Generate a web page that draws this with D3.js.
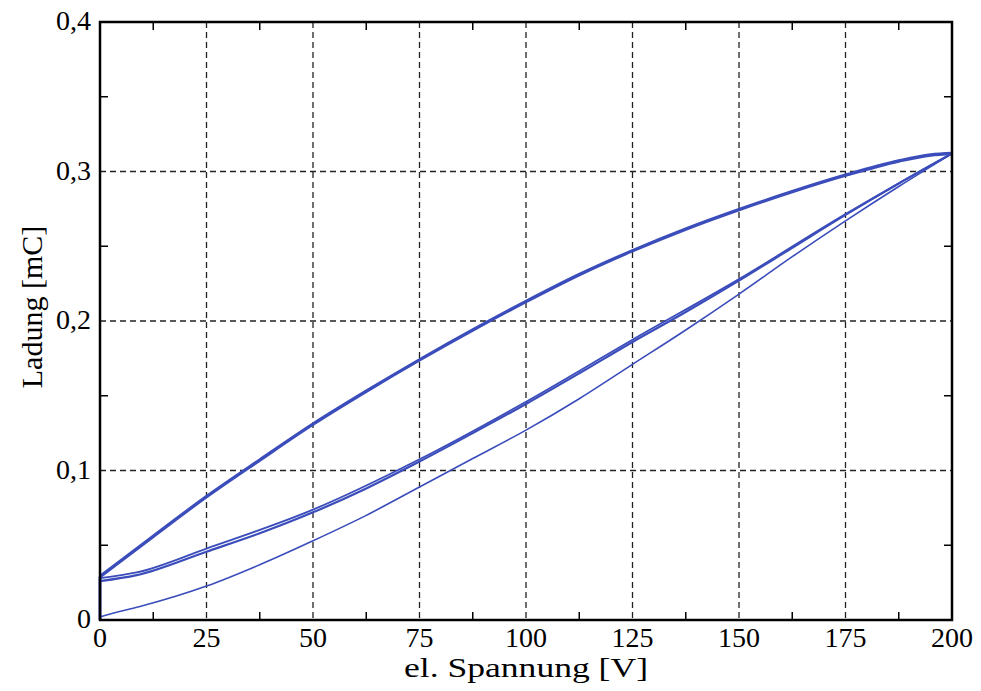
<!DOCTYPE html>
<html>
<head>
<meta charset="utf-8">
<script src="https://cdn.jsdelivr.net/npm/d3@7"></script>
<style>
  body { margin: 0; background: #fff; }
  svg text { font-family: "Liberation Serif", "DejaVu Serif", serif; fill: #000; }
</style>
</head>
<body>
<div id="chart"></div>
<script>
// tick values and labels
let xTicks = [0, 25, 50, 75, 100, 125, 150, 175, 200];
let yTicks = [0, 0.1, 0.2, 0.3, 0.4];
let yTickLabels = ["0", "0,1", "0,2", "0,3", "0,4"];

// charge curves, [voltage V, charge mC]
let upperBranch = [[0, 0.029], [12.5, 0.056], [25, 0.0825], [37.5, 0.107], [50, 0.131], [62.5, 0.153],
  [75, 0.174], [87.5, 0.194], [100, 0.213], [112.5, 0.231], [125, 0.247], [137.5, 0.2615],
  [150, 0.2745], [162.5, 0.2865], [175, 0.2975], [187.5, 0.307], [195, 0.311], [200, 0.312]];
let lowerBranch = [[0, 0.026], [8.6, 0.030], [25, 0.0457], [37.5, 0.058], [50, 0.072], [62.5, 0.088],
  [75, 0.106], [87.5, 0.125], [100, 0.1445], [112.5, 0.165], [125, 0.186], [137.5, 0.206],
  [150, 0.227], [162.5, 0.249], [175, 0.271], [187.5, 0.292], [200, 0.312]];
let lowerBranch2 = [[0, 0.028], [8.6, 0.0318], [25, 0.0478], [50, 0.0738], [75, 0.1075],
  [100, 0.146], [125, 0.1875], [150, 0.228], [175, 0.2715], [200, 0.312]];
let firstLoad = [[0, 0.002], [3, 0.0045], [10, 0.0095], [25, 0.0227], [37.5, 0.037], [50, 0.053],
  [62.5, 0.070], [75, 0.089], [87.5, 0.108], [100, 0.127], [112.5, 0.148], [125, 0.171],
  [137.5, 0.194], [150, 0.218], [162.5, 0.243], [175, 0.267], [187.5, 0.290], [200, 0.312]];
let zeroLeg = [[0, 0], [0, 0.029]];

let width = 981, height = 691;
let margin = {top: 22, right: 29, bottom: 71, left: 100};
let w = width - margin.left - margin.right;
let h = height - margin.top - margin.bottom;
let blue = "#3b4dbb";

let svg = d3.select("#chart")
  .append("svg")
  .attr("width", width)
  .attr("height", height)
  .append("g")
  .attr("transform", `translate(${margin.left}, ${margin.top})`);

let x = d3.scaleLinear().domain([0, 200]).range([0, w]);
let y = d3.scaleLinear().domain([0, 0.4]).range([h, 0]);

// dashed grid
svg.append("g").selectAll("line").data(xTicks.slice(1, -1)).enter()
  .append("line")
  .attr("x1", d => x(d)).attr("x2", d => x(d))
  .attr("y1", 0).attr("y2", h)
  .attr("stroke", "#222").attr("stroke-width", 1.3).attr("stroke-dasharray", "6,4");
svg.append("g").selectAll("line").data(yTicks.slice(1, -1)).enter()
  .append("line")
  .attr("x1", 0).attr("x2", w)
  .attr("y1", d => y(d)).attr("y2", d => y(d))
  .attr("stroke", "#222").attr("stroke-width", 1.3).attr("stroke-dasharray", "6,4");

// minor ticks inside the frame
let xMinor = xTicks.slice(0, -1).map(d => d + 12.5);
let yMinor = yTicks.slice(0, -1).map(d => d + 0.05);
let tk = 8;
let ticks = svg.append("g").attr("stroke", "#000").attr("stroke-width", 1.5);
xMinor.forEach(function(d) {
  ticks.append("line").attr("x1", x(d)).attr("x2", x(d)).attr("y1", h).attr("y2", h - tk);
  ticks.append("line").attr("x1", x(d)).attr("x2", x(d)).attr("y1", 0).attr("y2", tk);
});
yMinor.forEach(function(d) {
  ticks.append("line").attr("y1", y(d)).attr("y2", y(d)).attr("x1", 0).attr("x2", tk);
  ticks.append("line").attr("y1", y(d)).attr("y2", y(d)).attr("x1", w).attr("x2", w - tk);
});

// curves
let line = d3.line()
  .x(d => x(d[0]))
  .y(d => y(d[1]))
  .curve(d3.curveMonotoneX);

let curves = [
  {data: firstLoad, sw: 1.6},
  {data: lowerBranch2, sw: 1.8},
  {data: lowerBranch, sw: 2.2},
  {data: upperBranch, sw: 3.4}
];
svg.append("g").selectAll("path").data(curves).enter()
  .append("path")
  .attr("d", d => line(d.data))
  .attr("fill", "none")
  .attr("stroke", blue)
  .attr("stroke-width", d => d.sw)
  .attr("stroke-linejoin", "round");

svg.append("path")
  .attr("d", d3.line().x(d => x(d[0])).y(d => y(d[1]))(zeroLeg))
  .attr("fill", "none").attr("stroke", blue).attr("stroke-width", 3);

// frame
svg.append("rect")
  .attr("x", 0).attr("y", 0).attr("width", w).attr("height", h)
  .attr("fill", "none").attr("stroke", "#000").attr("stroke-width", 2.5);

// tick labels
svg.append("g").selectAll("text").data(xTicks).enter()
  .append("text")
  .attr("x", d => x(d))
  .attr("y", h + 27)
  .style("text-anchor", "middle")
  .style("font-size", "28px")
  .text(d => d);

svg.append("g").selectAll("text").data(yTicks).enter()
  .append("text")
  .attr("x", -9)
  .attr("y", d => y(d) + 8)
  .style("text-anchor", "end")
  .style("font-size", "28px")
  .text((d, i) => yTickLabels[i]);

// axis titles
svg.append("text")
  .attr("x", w / 2)
  .attr("y", h + 57)
  .attr("textLength", 244)
  .attr("lengthAdjust", "spacingAndGlyphs")
  .style("text-anchor", "middle")
  .style("font-size", "27px")
  .text("el. Spannung [V]");

svg.append("text")
  .attr("transform", `translate(-58, ${h / 2 - 14}) rotate(-90)`)
  .style("text-anchor", "middle")
  .style("font-size", "30px")
  .text("Ladung [mC]");
</script>
</body>
</html>
